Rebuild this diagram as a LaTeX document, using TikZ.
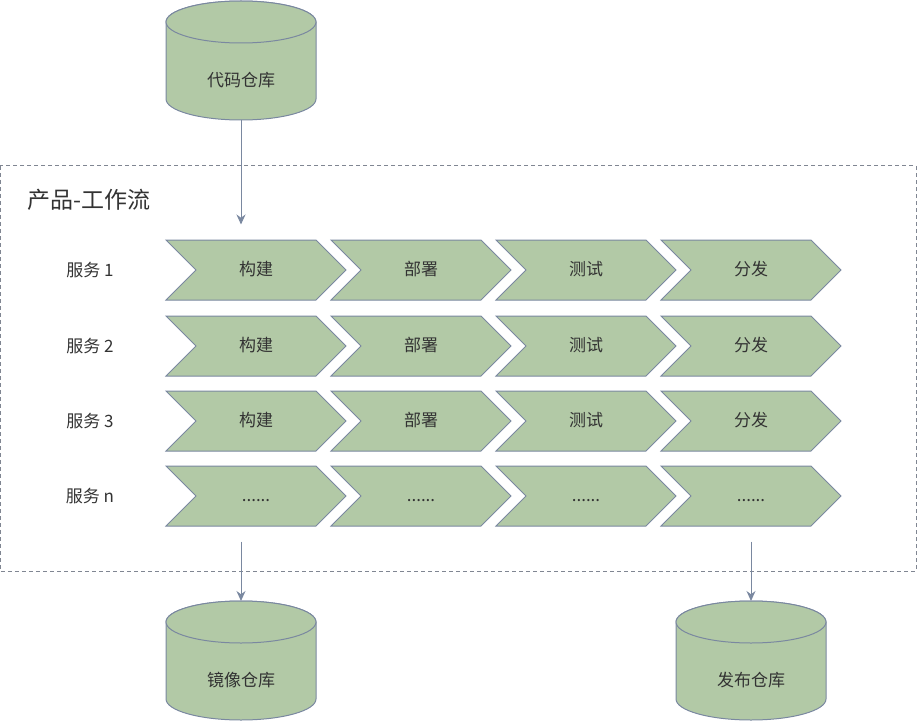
\documentclass[tikz,border=0pt]{standalone}
\usepackage{fontspec}
\setmainfont{Noto Sans CJK SC}
\usepackage{xcolor}
\definecolor{stagegreen}{RGB}{178,201,166}
\definecolor{edgeblue}{RGB}{122,136,160}
\definecolor{textgray}{RGB}{51,51,51}
\definecolor{framegray}{RGB}{128,134,146}
\usetikzlibrary{shapes.symbols,arrows.meta}

\begin{document}
\begin{tikzpicture}[x=1pt,y=-1pt,
  stage/.style={signal, signal from=west, signal to=east, signal pointer angle=90,
    draw=edgeblue, fill=stagegreen, line width=1pt, minimum width=180pt,
    minimum height=60pt, inner sep=0pt, text=textgray, text height=13pt,
    text depth=3pt, font=\fontsize{17}{17}\selectfont},
  store/.style={draw=edgeblue, fill=stagegreen, line width=1pt},
  caption/.style={text=textgray, font=\fontsize{17}{17}\selectfont},
  flow/.style={draw=edgeblue, line width=1pt, -{Stealth[length=10pt,width=9pt]}}]
  \useasboundingbox (0,0) rectangle (918,722);

  % workflow frame
  \draw[framegray, line width=1pt, dash pattern=on 4pt off 3pt] (0,166) rectangle (916,571);
  \node[anchor=west, inner sep=0pt, text=textgray, font=\fontsize{23}{23}\selectfont] (title) at (27,200) {产品-工作流};

  % repositories
  \path[store] (166,22) -- (166,99) arc[start angle=180, end angle=360, x radius=75pt, y radius=21pt]
    -- (316,22) arc[start angle=0, end angle=180, x radius=75pt, y radius=21pt] -- cycle;
  \path[store] (241,22) ellipse [x radius=75pt, y radius=21pt];
  \node[caption] (repo) at (241,80) {代码仓库};
  \coordinate (repoout) at (241,120);

  \path[store] (166,622) -- (166,699) arc[start angle=180, end angle=360, x radius=75pt, y radius=21pt]
    -- (316,622) arc[start angle=0, end angle=180, x radius=75pt, y radius=21pt] -- cycle;
  \path[store] (241,622) ellipse [x radius=75pt, y radius=21pt];
  \node[caption] (mirror) at (241,680) {镜像仓库};
  \coordinate (mirrorin) at (241,601);

  \path[store] (676,622) -- (676,699) arc[start angle=180, end angle=360, x radius=75pt, y radius=21pt]
    -- (826,622) arc[start angle=0, end angle=180, x radius=75pt, y radius=21pt] -- cycle;
  \path[store] (751,622) ellipse [x radius=75pt, y radius=21pt];
  \node[caption] (release) at (751,680) {发布仓库};
  \coordinate (releasein) at (751,601);

  \node[caption] (svc1) at (90,270) {服务 1};
  \node[stage] (s11) at (256,270) {构建};
  \node[stage] (s12) at (421,270) {部署};
  \node[stage] (s13) at (586,270) {测试};
  \node[stage] (s14) at (751,270) {分发};

  \node[caption] (svc2) at (90,346) {服务 2};
  \node[stage] (s21) at (256,346) {构建};
  \node[stage] (s22) at (421,346) {部署};
  \node[stage] (s23) at (586,346) {测试};
  \node[stage] (s24) at (751,346) {分发};

  \node[caption] (svc3) at (90,421) {服务 3};
  \node[stage] (s31) at (256,421) {构建};
  \node[stage] (s32) at (421,421) {部署};
  \node[stage] (s33) at (586,421) {测试};
  \node[stage] (s34) at (751,421) {分发};

  \node[caption] (svcn) at (90,496) {服务 n};
  \node[stage] (sn1) at (256,496) {......};
  \node[stage] (sn2) at (421,496) {......};
  \node[stage] (sn3) at (586,496) {......};
  \node[stage] (sn4) at (751,496) {......};

  \path[flow, shorten >=15pt] (repoout) -- (repoout |- s11.north);
  \path[flow, shorten <=15pt] (mirrorin |- sn1.south) -- (mirrorin);
  \path[flow, shorten <=15pt] (releasein |- sn4.south) -- (releasein);
\end{tikzpicture}
\end{document}
